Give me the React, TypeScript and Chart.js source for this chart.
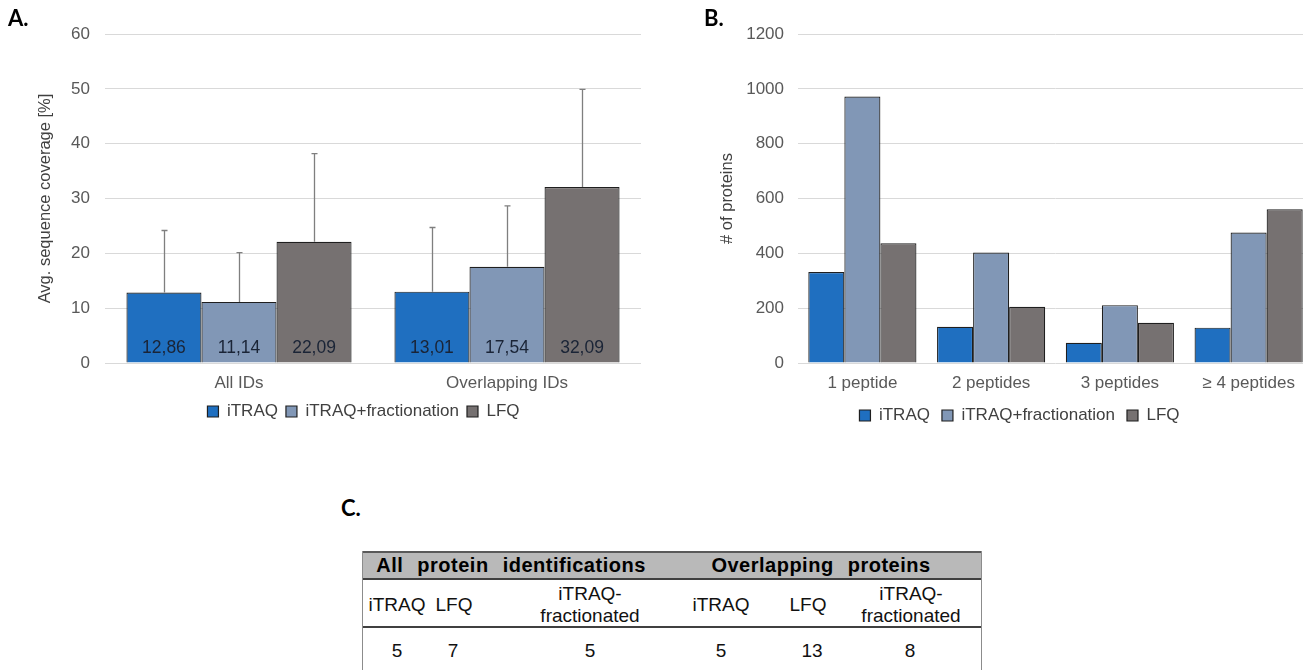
import React, { useEffect, useRef } from "react";
import { Chart, registerables } from "chart.js";

Chart.register(...registerables);

// ---------- data ----------
const seriesNames = ["iTRAQ", "iTRAQ+fractionation", "LFQ"];
const seriesColors = ["#1f6fc0", "#8197b6", "#767171"];

const coverageCategories = ["All IDs", "Overlapping IDs"];
const coverageITRAQ = [12.86, 13.01];
const coverageFrac = [11.14, 17.54];
const coverageLFQ = [22.09, 32.09];
const coverageErrITRAQ = [11.3, 11.7];
const coverageErrFrac = [9.0, 11.1];
const coverageErrLFQ = [16.1, 17.8];

const peptideCategories = ["1 peptide", "2 peptides", "3 peptides", "≥ 4 peptides"];
const peptideITRAQ = [332, 132, 74, 129];
const peptideFrac = [972, 403, 211, 476];
const peptideLFQ = [437, 205, 147, 561];

const tableGroups = ["All protein identifications", "Overlapping proteins"];
const tableColumns = ["iTRAQ", "LFQ", "iTRAQ-\nfractionated", "iTRAQ", "LFQ", "iTRAQ-\nfractionated"];
const tableValues = ["5", "7", "5", "5", "13", "8"];

// ---------- styling ----------
const FONT = "'Liberation Sans', Arial, sans-serif";
const TICK_COLOR = "#595959";
const GRID_COLOR = "#d9d9d9";

const errorBarPlugin = {
  id: "errorBars",
  afterDatasetsDraw(chart: any, _args: any, opts: any) {
    if (!opts || !opts.errors) return;
    const ctx = chart.ctx;
    const yScale = chart.scales.y;
    ctx.save();
    ctx.strokeStyle = "#7f7f7f";
    ctx.lineWidth = 1.3;
    chart.data.datasets.forEach((ds: any, i: number) => {
      const meta = chart.getDatasetMeta(i);
      const errs = opts.errors[i];
      meta.data.forEach((el: any, j: number) => {
        const v = ds.data[j];
        const top = yScale.getPixelForValue(v + errs[j]);
        const x = Math.round(el.x) + 0.5;
        ctx.beginPath();
        ctx.moveTo(x, el.y);
        ctx.lineTo(x, top);
        ctx.moveTo(x - 3, top);
        ctx.lineTo(x + 3, top);
        ctx.stroke();
      });
    });
    ctx.restore();
  },
};

const innerLabelPlugin = {
  id: "innerLabels",
  afterDatasetsDraw(chart: any, _args: any, opts: any) {
    if (!opts || !opts.display) return;
    const ctx = chart.ctx;
    const yScale = chart.scales.y;
    const base = yScale.getPixelForValue(0);
    ctx.save();
    ctx.font = `17.5px ${FONT}`;
    ctx.fillStyle = "#1a2436";
    ctx.textAlign = "center";
    ctx.textBaseline = "middle";
    chart.data.datasets.forEach((ds: any, i: number) => {
      const meta = chart.getDatasetMeta(i);
      meta.data.forEach((el: any, j: number) => {
        const txt = Number(ds.data[j]).toFixed(2).replace(".", ",");
        ctx.fillText(txt, el.x, base - 15);
      });
    });
    ctx.restore();
  },
};

function makeDatasets(values: number[][]) {
  return values.map((data, i) => ({
    label: seriesNames[i],
    data,
    backgroundColor: seriesColors[i],
    borderColor: "#1f1f1f",
    borderWidth: 1.2,
    categoryPercentage: 0.84,
    barPercentage: 1.0,
  }));
}

const xAxis = {
  grid: { display: false, drawTicks: false },
  border: { display: false },
  ticks: { color: TICK_COLOR, font: { family: FONT, size: 17 }, padding: 10 },
  afterFit: (s: any) => {
    s.height = 32;
  },
};

function legendOpts(padding: number) {
  return {
    position: "bottom",
    labels: {
      boxWidth: 11,
      boxHeight: 11,
      padding,
      color: "#404040",
      font: { family: FONT, size: 17 },
    },
  };
}

function CoverageChart() {
  const ref = useRef<HTMLCanvasElement | null>(null);
  useEffect(() => {
    if (!ref.current) return;
    const chart = new Chart(ref.current, {
      type: "bar",
      data: {
        labels: coverageCategories,
        datasets: makeDatasets([coverageITRAQ, coverageFrac, coverageLFQ]) as any,
      },
      plugins: [errorBarPlugin, innerLabelPlugin],
      options: {
        animation: false,
        responsive: false,
        maintainAspectRatio: false,
        layout: { padding: { top: 34, left: 30, right: 3, bottom: 10 } },
        plugins: {
          legend: legendOpts(8),
          tooltip: { enabled: false },
          errorBars: { errors: [coverageErrITRAQ, coverageErrFrac, coverageErrLFQ] },
          innerLabels: { display: true },
        } as any,
        scales: {
          x: xAxis,
          y: {
            min: 0,
            max: 60,
            ticks: {
              stepSize: 10,
              color: TICK_COLOR,
              font: { family: FONT, size: 17 },
              padding: 15,
              callback: (v: any) => String(v),
            },
            grid: { color: GRID_COLOR, drawTicks: false },
            border: { display: false },
            title: {
              display: true,
              text: "Avg. sequence coverage [%]",
              color: "#404040",
              font: { family: FONT, size: 16.5 },
              padding: { top: 6, bottom: 0 },
            },
            afterFit: (s: any) => {
              s.width = 75;
            },
          },
          spacer: {
            type: "linear",
            position: "right",
            display: true,
            grid: { display: false, drawTicks: false },
            border: { display: false },
            ticks: { display: false },
            afterFit: (s: any) => {
              s.width = 56;
            },
          },
        },
      } as any,
    });
    return () => chart.destroy();
  }, []);
  return (
    <canvas
      ref={ref}
      width={700}
      height={440}
      style={{ position: "absolute", left: 0, top: 0, width: 700, height: 440 }}
    />
  );
}

function PeptideChart() {
  const ref = useRef<HTMLCanvasElement | null>(null);
  useEffect(() => {
    if (!ref.current) return;
    const chart = new Chart(ref.current, {
      type: "bar",
      data: {
        labels: peptideCategories,
        datasets: makeDatasets([peptideITRAQ, peptideFrac, peptideLFQ]) as any,
      },
      options: {
        animation: false,
        responsive: false,
        maintainAspectRatio: false,
        layout: { padding: { top: 34, left: 26, right: 10, bottom: 6 } },
        plugins: {
          legend: legendOpts(12),
          tooltip: { enabled: false },
        } as any,
        scales: {
          x: xAxis,
          y: {
            min: 0,
            max: 1200,
            ticks: {
              stepSize: 200,
              color: TICK_COLOR,
              font: { family: FONT, size: 17 },
              padding: 14,
              callback: (v: any) => String(v),
            },
            grid: { color: GRID_COLOR, drawTicks: false },
            border: { display: false },
            title: {
              display: true,
              text: "# of proteins",
              color: "#404040",
              font: { family: FONT, size: 16.5 },
              padding: { top: -8.9, bottom: 0 },
            },
            afterFit: (s: any) => {
              s.width = 72;
            },
          },
        },
      } as any,
    });
    return () => chart.destroy();
  }, []);
  return (
    <canvas
      ref={ref}
      width={623}
      height={440}
      style={{ position: "absolute", left: 700, top: 0, width: 623, height: 440 }}
    />
  );
}

const panelLabel: React.CSSProperties = {
  position: "absolute",
  fontFamily: "Lato, 'Open Sans', sans-serif",
  fontWeight: 700,
  fontSize: 22,
  lineHeight: "22px",
  color: "#000",
  margin: 0,
};

function Table() {
  const colCenters = [397, 454, 590, 721, 808, 911];
  const dataCenters = [397, 453, 590, 721, 812, 910];
  const groupCenters = [511, 821];
  const left = 362;
  const top = 551;
  const txt: React.CSSProperties = {
    position: "absolute",
    transform: "translateX(-50%)",
    fontFamily: FONT,
    fontSize: 19,
    lineHeight: "21.7px",
    color: "#111",
    textAlign: "center",
    whiteSpace: "pre",
  };
  return (
    <div style={{ position: "absolute", left: 0, top: 0 }}>
      <div
        style={{
          position: "absolute",
          left,
          top,
          width: 620,
          height: 28,
          background: "#b9b9b9",
          borderTop: "2px solid #595959",
          boxSizing: "border-box",
        }}
      />
      <div style={{ position: "absolute", left, top: 578, width: 620, height: 2, background: "#404040" }} />
      <div style={{ position: "absolute", left, top: 626, width: 620, height: 2, background: "#404040" }} />
      <div style={{ position: "absolute", left, top, width: 1, height: 119, background: "#8c8c8c" }} />
      <div style={{ position: "absolute", left: left + 619, top, width: 1, height: 119, background: "#8c8c8c" }} />
      {tableGroups.map((g, i) => (
        <div
          key={g}
          style={{
            ...txt,
            left: groupCenters[i],
            top: 554,
            fontWeight: 700,
            fontSize: 20,
            lineHeight: "22px",
            color: "#000",
            letterSpacing: 0.5,
            wordSpacing: 8,
          }}
        >
          {g}
        </div>
      ))}
      {tableColumns.map((c, i) => {
        const twoLine = c.includes("\n");
        return (
          <div key={i} style={{ ...txt, left: colCenters[i], top: twoLine ? 583 : 594 }}>
            {c}
          </div>
        );
      })}
      {tableValues.map((v, i) => (
        <div key={i} style={{ ...txt, left: dataCenters[i], top: 640 }}>
          {v}
        </div>
      ))}
    </div>
  );
}

export default function App() {
  return (
    <div
      style={{
        position: "fixed",
        left: 0,
        top: 0,
        width: "100vw",
        height: "100vh",
        overflow: "hidden",
        background: "#fff",
      }}
    >
      <CoverageChart />
      <PeptideChart />
      <div style={{ ...panelLabel, left: 8, top: 7 }}>A.</div>
      <div style={{ ...panelLabel, left: 704, top: 7 }}>B.</div>
      <div style={{ ...panelLabel, left: 341, top: 497 }}>C.</div>
      <Table />
    </div>
  );
}
